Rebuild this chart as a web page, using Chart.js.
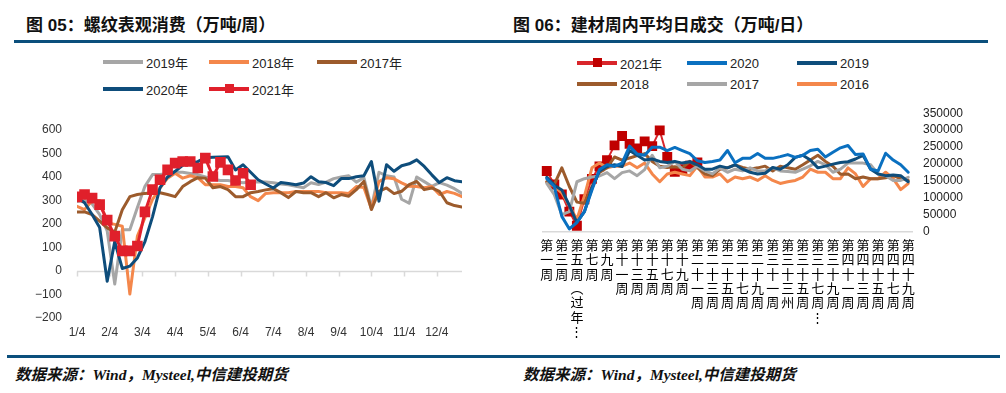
<!DOCTYPE html>
<html><head><meta charset="utf-8">
<script src="https://cdn.jsdelivr.net/npm/chart.js@4.4.0/dist/chart.umd.min.js"></script>
<style>
html,body{margin:0;padding:0;background:#fff;}
body{width:1006px;height:393px;position:relative;overflow:hidden;font-family:"Liberation Sans","Noto Sans CJK SC",sans-serif;}
.title{position:absolute;top:16px;font-weight:bold;font-size:17px;font-family:"Liberation Sans","Noto Sans CJK SC",sans-serif;color:#111;white-space:nowrap;line-height:20px}
.rule{position:absolute;height:3px;background:#0B4F7C}
.src{position:absolute;top:366px;font-style:italic;font-weight:bold;font-size:15.5px;font-family:"Liberation Serif","Noto Sans CJK SC",serif;color:#111;white-space:nowrap;line-height:18px}
.leg{position:absolute;height:16px;display:flex;align-items:center;font-size:13px;color:#222;white-space:nowrap;font-family:"Liberation Sans","Noto Sans CJK SC",sans-serif}
.leg .ln{position:relative;width:40px;height:3.5px;margin-right:3px}
.leg .mk{position:absolute;left:16px;top:-3px;width:9px;height:9px}
canvas{position:absolute}
</style></head>
<body>
<div class="title" style="left:26px">图 05：螺纹表观消费（万吨/周）</div>
<div class="title" style="left:513px">图 06：建材周内平均日成交（万吨/日）</div>
<div class="rule" style="left:14px;width:974px;top:40px"></div>
<div class="rule" style="left:7px;width:993px;top:355px"></div>
<div class="src" style="left:15px">数据来源：Wind，Mysteel,中信建投期货</div>
<div class="src" style="left:523px">数据来源：Wind，Mysteel,中信建投期货</div>
<canvas id="c1" width="490" height="240" style="left:0;top:100px"></canvas>
<canvas id="c2" width="506" height="250" style="left:500px;top:95px"></canvas>
<script>
// ---------- Left chart: 螺纹表观消费 (weekly, 52 weeks) ----------
const monthLabels = ['1/4','2/4','3/4','4/4','5/4','6/4','7/4','8/4','9/4','10/4','11/4','12/4'];
const monthTickWeeks = [0,4.333,8.667,13,17.333,21.667,26,30.333,34.667,39,43.333,47.667];
const yTicksLeft = [-200,-100,0,100,200,300,400,500,600];

const cons2019 = [295,300,285,240,170,-56,175,175,270,360,410,410,415,420,420,415,410,400,390,385,385,380,375,378,380,378,375,370,367,360,354,375,368,378,393,400,405,378,397,270,420,405,400,305,288,400,380,360,376,365,350,330];
const cons2018 = [275,261,300,300,205,198,190,-99,148,226,304,353,395,416,395,405,397,367,367,367,359,359,354,316,299,330,333,333,333,338,338,338,338,333,333,333,330,359,355,265,380,397,392,375,360,359,354,359,325,338,330,316];
const cons2017 = [251,251,240,212,183,165,260,316,325,330,333,333,325,316,359,380,397,395,354,359,346,316,316,333,338,345,350,333,312,338,333,333,316,333,311,325,318,346,381,261,339,353,329,339,367,381,346,353,339,290,278,272];
const cons2020 = [312,290,240,185,-44,125,10,20,55,125,230,355,400,424,450,460,465,482,484,485,486,430,452,420,388,370,353,376,372,367,374,401,380,376,363,393,393,401,405,466,297,452,424,448,456,473,445,409,376,397,384,380];
const cons2021 = [315,325,310,282,216,148,85,85,106,251,346,388,430,459,466,466,438,480,402,462,430,385,416,367];

// ---------- Right chart: 建材周内平均日成交 (weeks 1..49) ----------
const weekCategories = [1,2,3,4,5,6,7,8,9,10,11,12,13,14,15,16,17,18,19,20,21,22,23,24,25,26,27,28,29,30,31,32,33,34,35,36,37,38,39,40,41,42,43,44,45,46,47,48,49];
const weekTickLabels = ['第一周','第三周','第五周（过年…','第七周','第九周','第十一周','第十三周','第十五周','第十七周','第十九周','第二十一周','第二十三周','第二十五周','第二十七周','第二十九周','第三十一周','第三十三州','第三十五周','第三十七周…','第三十九周','第四十一周','第四十三周','第四十五周','第四十七周','第四十九周'];
const yTicksRight = [0,50000,100000,150000,200000,250000,300000,350000];

const deal2021 = [179600,140000,110500,60000,18400,96700,156600,193400,211800,255100,282700,259700,245900,267100,253000,299300,221000,177000,185000,195000,205000];
const deal2020 = [157000,134000,46000,9000,28000,60000,124000,184000,198000,193000,203000,253000,230000,226000,250000,250000,240000,249000,240000,231000,210000,205000,208000,212000,240000,204000,217000,217000,231000,217000,217000,222000,228000,220000,226000,240000,244000,221000,235000,248000,255000,228000,230000,185000,180000,232000,212000,198000,176000];
const deal2019 = [161000,138000,124000,78000,28000,60000,129000,180000,193000,198000,193000,240000,226000,212000,215000,208000,205000,208000,203000,207000,198000,185000,185000,194000,189000,198000,185000,176000,171000,173000,190000,185000,198000,220000,226000,212000,189000,194000,200000,205000,207000,215000,226000,185000,171000,166000,168000,166000,148000];
const deal2018 = [148000,140000,189000,134000,88000,85000,134000,175000,189000,221000,212000,218000,225000,231000,208000,194000,190000,192000,189000,208000,190000,171000,166000,185000,189000,198000,190000,185000,189000,194000,180000,194000,189000,185000,198000,212000,226000,208000,194000,170000,171000,157000,162000,157000,157000,160000,166000,157000,152000];
const deal2017 = [143000,110000,51000,60000,148000,157000,162000,165000,175000,157000,175000,180000,166000,184000,226000,189000,194000,208000,185000,180000,194000,180000,171000,189000,176000,185000,180000,189000,180000,180000,189000,180000,178000,176000,185000,195000,208000,198000,176000,185000,203000,203000,203000,198000,171000,166000,152000,152000,161000];
const deal2016 = [148000,134000,115000,78000,37000,106000,189000,203000,189000,194000,194000,203000,189000,203000,171000,148000,171000,176000,171000,166000,194000,162000,162000,171000,148000,162000,157000,162000,152000,166000,152000,143000,148000,152000,162000,185000,176000,176000,157000,157000,189000,171000,134000,157000,157000,176000,157000,125000,143000];

const C = {red:'#E0202B', dred:'#C00000', navy:'#0E4D7B', blue:'#0A70C0', gray:'#A6A6A6', orange:'#F4874B', brown:'#9C5B2C'};

// ---------- Legends (HTML text) ----------
function legend(items){
  items.forEach(it=>{
    const d=document.createElement('div'); d.className='leg';
    d.style.left=it.x+'px'; d.style.top=(it.y-8)+'px';
    const ln=document.createElement('span'); ln.className='ln'; ln.style.background=it.color;
    if(it.marker){const m=document.createElement('span'); m.className='mk'; m.style.background=it.marker; ln.appendChild(m);}
    d.appendChild(ln);
    d.appendChild(document.createTextNode(it.name));
    document.body.appendChild(d);
  });
}
legend([
  {x:103,y:62,name:'2019年',color:C.gray},
  {x:209,y:62,name:'2018年',color:C.orange},
  {x:317,y:62,name:'2017年',color:C.brown},
  {x:103,y:89,name:'2020年',color:C.navy},
  {x:209,y:89,name:'2021年',color:C.red,marker:C.red},
  {x:577,y:63,name:'2021年',color:'#D9262B',marker:C.dred},
  {x:687,y:63,name:'2020',color:C.blue},
  {x:797,y:63,name:'2019',color:C.navy},
  {x:577,y:84,name:'2018',color:C.brown},
  {x:687,y:84,name:'2017',color:C.gray},
  {x:797,y:84,name:'2016',color:C.orange}
]);

function lineDs(label, values, color, order, marker, xy){
  return {
    label, order,
    data: xy ? values.map((v,i)=>({x:i,y:v})) : values,
    borderColor: color, backgroundColor: color, borderWidth: 3,
    borderJoinStyle:'round', borderCapStyle:'round', tension:0, fill:false,
    pointRadius: marker ? marker.r : 0, pointStyle:'rect',
    pointBackgroundColor: marker ? marker.c : color, pointBorderWidth:0, pointHoverRadius:0
  };
}

const zeroAxis = {
  id:'zeroAxis',
  beforeDatasetsDraw(chart){
    const {ctx, chartArea, scales:{x,y}} = chart;
    const y0 = Math.round(y.getPixelForValue(0))+0.5;
    ctx.save(); ctx.strokeStyle='#D9D9D9'; ctx.lineWidth=1.5;
    ctx.beginPath(); ctx.moveTo(chartArea.left,y0); ctx.lineTo(chartArea.right,y0);
    monthTickWeeks.forEach(w=>{const px=Math.round(x.getPixelForValue(w))+0.5; ctx.moveTo(px,y0); ctx.lineTo(px,y0+5);});
    ctx.stroke(); ctx.restore();
  }
};

new Chart(document.getElementById('c1'), {
  type:'line',
  data:{datasets:[
    lineDs('2021年', cons2021, C.red, 0, {r:7.5,c:C.red}, true),
    lineDs('2020年', cons2020, C.navy, 1, null, true),
    lineDs('2017年', cons2017, C.brown, 2, null, true),
    lineDs('2018年', cons2018, C.orange, 3, null, true),
    lineDs('2019年', cons2019, C.gray, 4, null, true)
  ]},
  options:{
    responsive:false, animation:false, devicePixelRatio:1,
    layout:{padding:{top:30,right:28,left:0,bottom:0}},
    plugins:{legend:{display:false},tooltip:{enabled:false}},
    scales:{
      x:{type:'linear',min:0,max:51,
        afterBuildTicks:s=>{s.ticks=monthTickWeeks.map(v=>({value:v}));},
        afterFit:s=>{s.height=21;},
        grid:{display:false,drawTicks:false},border:{display:false},
        ticks:{autoSkip:false,maxRotation:0,minRotation:0,padding:8,color:'#333',font:{size:12,family:'Liberation Sans'},callback:(v,i)=>monthLabels[i]}},
      y:{min:-200,max:600,
        afterBuildTicks:s=>{s.ticks=yTicksLeft.map(v=>({value:v}));},
        afterFit:s=>{s.width=77;},
        grid:{display:false,drawTicks:false},border:{display:false},
        ticks:{autoSkip:false,padding:15,color:'#333',font:{size:12,family:'Liberation Sans'},callback:v=>String(v).replace('-','−')}}
    }
  },
  plugins:[zeroAxis]
});

const toVert = s => Array.from(s).map(c => c==='（' ? '︵' : (c==='…' ? '⋮' : c));

new Chart(document.getElementById('c2'), {
  type:'line',
  data:{labels:weekCategories, datasets:[
    lineDs('2020', deal2020, C.blue, 0),
    lineDs('2019', deal2019, C.navy, 1),
    lineDs('2017', deal2017, C.gray, 2),
    lineDs('2018', deal2018, C.brown, 3),
    lineDs('2016', deal2016, C.orange, 4),
    Object.assign(lineDs('2021年', deal2021, '#D9262B', 5, {r:7,c:C.dred}), {borderWidth:2})
  ]},
  options:{
    responsive:false, animation:false, devicePixelRatio:1,
    layout:{padding:{top:10,right:0,left:43,bottom:0}},
    plugins:{legend:{display:false},tooltip:{enabled:false}},
    scales:{
      x:{type:'category',offset:true,
        afterFit:s=>{s.height=113;},
        grid:{display:false,drawTicks:false},border:{display:true,color:'#D9D9D9',width:1.5},
        ticks:{autoSkip:false,maxRotation:0,minRotation:0,padding:6,color:'#000',
          font:{size:13,family:'Noto Sans CJK SC',lineHeight:1.1},
          callback:(v,i)=> i%2===0 ? toVert(weekTickLabels[i/2]) : ''}},
      y:{position:'right',min:0,max:350000,
        afterBuildTicks:s=>{s.ticks=yTicksRight.map(v=>({value:v}));},
        afterFit:s=>{s.width=94;},
        grid:{display:false,drawTicks:false},border:{display:false},
        ticks:{autoSkip:false,padding:11,color:'#222',font:{size:12,family:'Liberation Sans'},callback:v=>String(v)}}
    }
  }
});
</script>
</body></html>
